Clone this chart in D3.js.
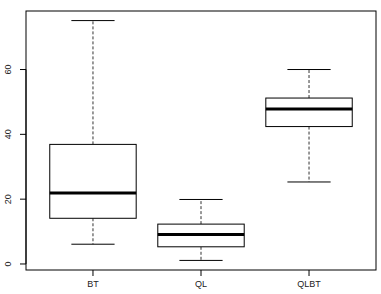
<!DOCTYPE html>
<html>
<head>
<meta charset="utf-8">
<script src="https://cdn.jsdelivr.net/npm/d3@7"></script>
<style>
  body { margin: 0; background: #fff; }
  svg { display: block; font-family: "Liberation Sans", Arial, sans-serif; }
</style>
</head>
<body>
<svg></svg>
<script>
// values
let groups = ['BT', 'QL', 'QLBT']
let lowWhisker = [6.1, 1.1, 25.3]
let q1 = [14.1, 5.3, 42.4]
let medians = [21.9, 9.1, 47.8]
let q3 = [36.9, 12.3, 51.2]
let highWhisker = [75.1, 19.9, 60.0]
let yTicks = [0, 20, 40, 60]

let width = 381
let height = 294
let plot = { left: 26, right: 376, top: 11, bottom: 270 }

let svg = d3.select('svg')
            .attr('width', width)
            .attr('height', height)

// R style: 4% padding on both axes
let x = d3.scaleLinear()
          .domain([0.5 - 0.12, groups.length + 0.5 + 0.12])
          .range([plot.left, plot.right])

let yMin = d3.min(lowWhisker), yMax = d3.max(highWhisker)
let pad = (yMax - yMin) * 0.04
let y = d3.scaleLinear()
          .domain([yMin - pad, yMax + pad])
          .range([plot.bottom, plot.top])

let data = groups.map((g, i) => ({
    name: g, pos: i + 1,
    lo: lowWhisker[i], q1: q1[i], med: medians[i], q3: q3[i], hi: highWhisker[i]
}))

let boxW = x(1.4) - x(1)
let capW = x(1.2) - x(1)

let box = svg.selectAll('g.box')
             .data(data)
             .enter()
             .append('g')
             .attr('class', 'box')

// whiskers
box.append('line')
   .attr('x1', d => x(d.pos)).attr('x2', d => x(d.pos))
   .attr('y1', d => y(d.q3)).attr('y2', d => y(d.hi))
   .attr('stroke', '#333').attr('stroke-dasharray', '3,2')
box.append('line')
   .attr('x1', d => x(d.pos)).attr('x2', d => x(d.pos))
   .attr('y1', d => y(d.q1)).attr('y2', d => y(d.lo))
   .attr('stroke', '#333').attr('stroke-dasharray', '3,2')

// caps
box.append('line')
   .attr('x1', d => x(d.pos) - capW).attr('x2', d => x(d.pos) + capW)
   .attr('y1', d => y(d.hi)).attr('y2', d => y(d.hi))
   .attr('stroke', '#000')
box.append('line')
   .attr('x1', d => x(d.pos) - capW).attr('x2', d => x(d.pos) + capW)
   .attr('y1', d => y(d.lo)).attr('y2', d => y(d.lo))
   .attr('stroke', '#000')

// boxes
box.append('rect')
   .attr('x', d => x(d.pos) - boxW)
   .attr('y', d => y(d.q3))
   .attr('width', boxW * 2)
   .attr('height', d => y(d.q1) - y(d.q3))
   .attr('fill', '#fff')
   .attr('stroke', '#000')

// medians
box.append('line')
   .attr('x1', d => x(d.pos) - boxW).attr('x2', d => x(d.pos) + boxW)
   .attr('y1', d => y(d.med)).attr('y2', d => y(d.med))
   .attr('stroke', '#000').attr('stroke-width', 3)

// frame
svg.append('rect')
   .attr('x', plot.left).attr('y', plot.top)
   .attr('width', plot.right - plot.left)
   .attr('height', plot.bottom - plot.top)
   .attr('fill', 'none').attr('stroke', '#000')

// y axis
let yAxis = svg.append('g')
yAxis.append('line')
     .attr('x1', plot.left).attr('x2', plot.left)
     .attr('y1', y(yTicks[0])).attr('y2', y(yTicks[yTicks.length - 1]))
     .attr('stroke', '#000')
yAxis.selectAll('line.tick')
     .data(yTicks)
     .enter()
     .append('line')
     .attr('class', 'tick')
     .attr('x1', plot.left - 6).attr('x2', plot.left)
     .attr('y1', d => y(d)).attr('y2', d => y(d))
     .attr('stroke', '#000')
yAxis.selectAll('text')
     .data(yTicks)
     .enter()
     .append('text')
     .attr('transform', d => `translate(11,${y(d)}) rotate(-90)`)
     .attr('text-anchor', 'middle')
     .attr('font-size', 9)
     .attr('fill', '#222')
     .text(d => d)

// x axis
let xAxis = svg.append('g')
xAxis.selectAll('line')
     .data(data)
     .enter()
     .append('line')
     .attr('x1', d => x(d.pos)).attr('x2', d => x(d.pos))
     .attr('y1', plot.bottom).attr('y2', plot.bottom + 6)
     .attr('stroke', '#000')
xAxis.selectAll('text')
     .data(data)
     .enter()
     .append('text')
     .attr('x', d => x(d.pos))
     .attr('y', plot.bottom + 17)
     .attr('text-anchor', 'middle')
     .attr('font-size', 9)
     .attr('fill', '#222')
     .text(d => d.name)
</script>
</body>
</html>
